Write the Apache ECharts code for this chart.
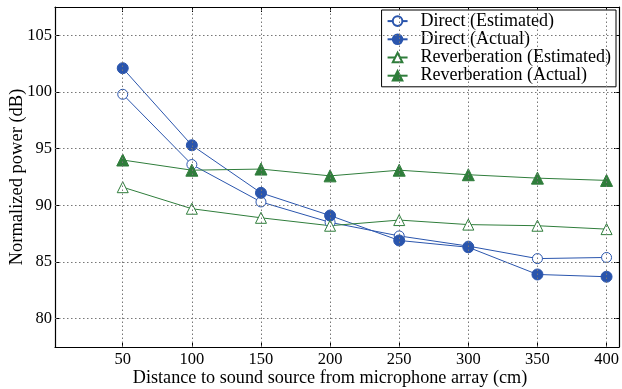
<!DOCTYPE html>
<html><head><meta charset="utf-8">
<script src="https://cdn.jsdelivr.net/npm/echarts@6/dist/echarts.min.js"></script>
<style>html,body{margin:0;padding:0;background:#fff}#c{width:622px;height:389px}</style>
</head><body><div id="c"></div>
<script>
const distances = [50, 100, 150, 200, 250, 300, 350, 400];
const xTicks = [50, 100, 150, 200, 250, 300, 350, 400];
const yTicks = [80, 85, 90, 95, 100, 105];
const directEstimated = [99.8, 93.6, 90.3, 88.5, 87.3, 86.4, 85.3, 85.4];
const directActual = [102.1, 95.3, 91.1, 89.1, 86.9, 86.3, 83.9, 83.7];
const reverbEstimated = [91.6, 89.7, 88.9, 88.2, 88.7, 88.3, 88.2, 87.9];
const reverbActual = [94.0, 93.1, 93.2, 92.6, 93.1, 92.7, 92.4, 92.2];

const BLUE = '#2a55ad', GREEN = '#2f7d3b';
const FONT = 'Liberation Serif';
const chart = echarts.init(document.getElementById('c'));
const pair = a => a.map((v, i) => [distances[i], v]);
const baseAxis = {
  axisLine: {show: true, lineStyle: {color: '#000', width: 1.2}},
  axisTick: {show: true, inside: true, length: 5, lineStyle: {color: '#000'}},
  splitLine: {show: false},
  nameMoveOverlap: false
};
function mkSeries(name, data, color, symbol, filled, size) {
  return {
    name, type: 'line', data: pair(data), symbol, symbolSize: size,
    lineStyle: {color, width: 1}, itemStyle: {color: filled ? color : '#fff', borderColor: color, borderWidth: 1},
    emphasis: {disabled: true}, z: 3
  };
}
const series = [
  mkSeries('Direct (Estimated)', directEstimated, BLUE, 'circle', false, 10),
  mkSeries('Direct (Actual)', directActual, BLUE, 'circle', true, 11),
  mkSeries('Reverberation (Estimated)', reverbEstimated, GREEN, 'triangle', false, 11),
  mkSeries('Reverberation (Actual)', reverbActual, GREEN, 'triangle', true, 12)
];
// grid lines
series.push({
  type: 'line', data: [], silent: true, z: 1,
  markLine: {
    silent: true, symbol: 'none', label: {show: false},
    lineStyle: {type: [1.5, 2.5], color: '#777', width: 1},
    data: yTicks.map(v => ({yAxis: v})).concat(xTicks.map(v => ({xAxis: v})))
  }
});
chart.setOption({
  animation: false,
  grid: {left: 55, right: 3, top: 7, bottom: 42, containLabel: false, outerBoundsMode: 'none'},
  legend: {
    data: series.slice(0, 4).map(s => s.name),
    orient: 'vertical', right: 6, top: 10, itemGap: 0,
    itemWidth: 20, itemHeight: 12,
    backgroundColor: '#fff', borderColor: '#000', borderWidth: 1, borderRadius: 0,
    padding: [2, 5, 2, 5],
    textStyle: {fontFamily: FONT, fontSize: 18, color: '#000', lineHeight: 18.2, padding: [0, 0, 0, 8]}
  },
  xAxis: [
    Object.assign({}, baseAxis, {
      type: 'value', min: 1, max: 409, position: 'bottom',
      axisTick: Object.assign({}, baseAxis.axisTick, {customValues: xTicks}),
      axisLabel: {customValues: xTicks, fontFamily: FONT, fontSize: 16.5, color: '#000', margin: 4},
      name: 'Distance to sound source from microphone array (cm)', nameLocation: 'middle', nameGap: 22,
      nameTextStyle: {fontFamily: FONT, fontSize: 18.2, color: '#000', padding: [0, 14, 0, 0]}
    }),
    Object.assign({}, baseAxis, {
      type: 'value', min: 1, max: 409, position: 'top',
      axisTick: Object.assign({}, baseAxis.axisTick, {customValues: xTicks}),
      axisLabel: {show: false}
    })
  ],
  yAxis: [
    Object.assign({}, baseAxis, {
      type: 'value', min: 77.5, max: 107.5, position: 'left',
      axisTick: Object.assign({}, baseAxis.axisTick, {customValues: yTicks}),
      axisLabel: {customValues: yTicks, fontFamily: FONT, fontSize: 16.5, color: '#000', margin: 3},
      name: 'Normalized power (dB)', nameLocation: 'middle', nameGap: 28, nameRotate: 90,
      nameTextStyle: {fontFamily: FONT, fontSize: 18.5, color: '#000'}
    }),
    Object.assign({}, baseAxis, {
      type: 'value', min: 77.5, max: 107.5, position: 'right',
      axisTick: Object.assign({}, baseAxis.axisTick, {customValues: yTicks}),
      axisLabel: {show: false}
    })
  ],
  series
});
</script></body></html>
